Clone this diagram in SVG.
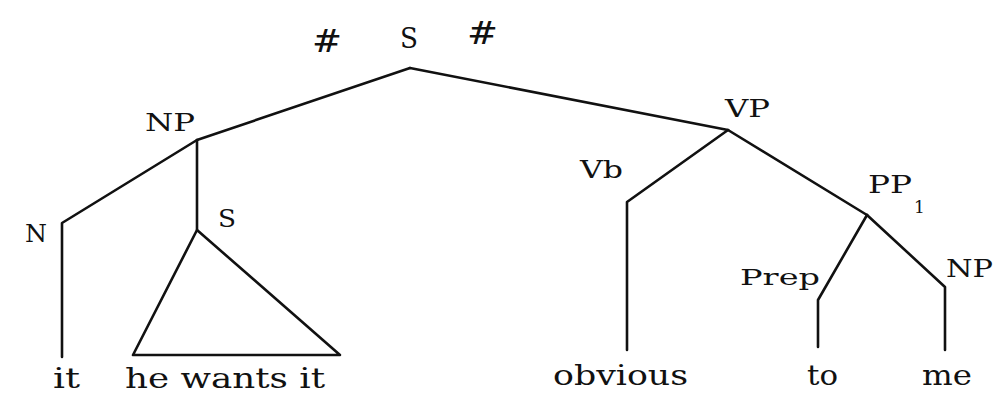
<svg xmlns="http://www.w3.org/2000/svg" width="994" height="394" viewBox="0 0 994 394">
<style>
.t{font-family:"DejaVu Serif","Liberation Serif",serif;font-size:25px;fill:#111}
.w{font-size:28px}
.e{stroke:#111;stroke-width:2.6;fill:none;stroke-linecap:round;stroke-linejoin:round}
</style>
<rect width="994" height="394" fill="#fff"/>
<g id="connectors">
<path class="e" d="M410 68 L197 140"/>
<path class="e" d="M410 68 L728 130"/>
<path class="e" d="M197 140 L62 223 L62 357"/>
<path class="e" d="M197 140 L197 230"/>
<path class="e" d="M197 230 L133 355 L340 355 Z"/>
<path class="e" d="M728 130 L627 202 L627 350"/>
<path class="e" d="M728 130 L867 215"/>
<path class="e" d="M867 215 L818 300 L818 347"/>
<path class="e" d="M867 215 L945 287 L945 350"/>
</g>
<g id="root">
<text class="t" x="312" y="52" textLength="30" lengthAdjust="spacingAndGlyphs" style="font-size:32px">#</text>
<text class="t" x="400" y="48" textLength="18" lengthAdjust="spacingAndGlyphs" style="font-size:28px">S</text>
<text class="t" x="467" y="44" textLength="31" lengthAdjust="spacingAndGlyphs" style="font-size:32px">#</text>
</g>
<g id="np"><text class="t" x="145" y="131" textLength="50" lengthAdjust="spacingAndGlyphs">NP</text></g>
<g id="n"><text class="t" x="25" y="242" textLength="22" lengthAdjust="spacingAndGlyphs">N</text></g>
<g id="s2"><text class="t" x="218" y="227" textLength="18" lengthAdjust="spacingAndGlyphs">S</text></g>
<g id="it"><text class="t w" x="53" y="388" textLength="27" lengthAdjust="spacingAndGlyphs">it</text></g>
<g id="hewantsit"><text class="t w" x="125" y="388" textLength="200" lengthAdjust="spacingAndGlyphs">he wants it</text></g>
<g id="vp"><text class="t" x="725" y="117" textLength="45" lengthAdjust="spacingAndGlyphs">VP</text></g>
<g id="vb"><text class="t" x="580" y="178" textLength="43" lengthAdjust="spacingAndGlyphs">Vb</text></g>
<g id="pp1"><text class="t" x="868" y="193" textLength="44" lengthAdjust="spacingAndGlyphs">PP</text><text class="t" x="914" y="213" style="font-size:17px">1</text></g>
<g id="prep"><text class="t" x="740" y="285" textLength="80" lengthAdjust="spacingAndGlyphs" style="font-size:23px">Prep</text></g>
<g id="np2"><text class="t" x="946" y="277" textLength="47" lengthAdjust="spacingAndGlyphs">NP</text></g>
<g id="obvious"><text class="t w" x="553" y="385" textLength="135" lengthAdjust="spacingAndGlyphs">obvious</text></g>
<g id="to"><text class="t w" x="807" y="385" textLength="31" lengthAdjust="spacingAndGlyphs">to</text></g>
<g id="me"><text class="t w" x="922" y="385" textLength="50" lengthAdjust="spacingAndGlyphs">me</text></g>
</svg>
